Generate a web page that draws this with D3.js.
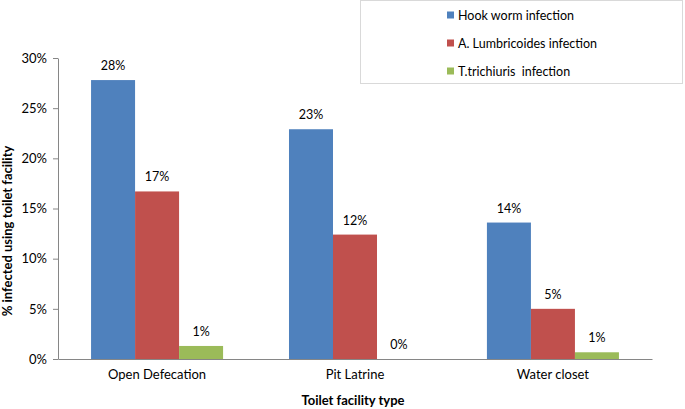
<!DOCTYPE html>
<html><head><meta charset="utf-8">
<script src="https://cdn.jsdelivr.net/npm/d3@7"></script>
<style>body{margin:0;background:#fff}svg{display:block}text{font-family:Lato,"Open Sans",sans-serif;fill:#000}</style>
</head><body><svg id="c" width="685" height="409"></svg>
<script>
const categories = ["Open Defecation", "Pit Latrine", "Water closet"];
const seriesNames = ["Hook worm infection", "A. Lumbricoides infection", "T.trichiuris  infection"];
const hookworm = [27.8, 22.9, 13.6];
const lumbricoides = [16.7, 12.4, 5.0];
const trichiuris = [1.3, 0.0, 0.67];
const dataLabels = [["28%", "23%", "14%"], ["17%", "12%", "5%"], ["1%", "0%", "1%"]];
const yTicks = [0, 5, 10, 15, 20, 25, 30];
const colors = ["#4F81BD", "#C0504D", "#9BBB59"];
const series = [hookworm, lumbricoides, trichiuris];

const svg = d3.select("#c");
const mLeft = 58, mRight = 652, mTop = 58, mBottom = 359;

const x0 = d3.scaleBand().domain(categories).range([mLeft, mRight]).paddingInner(0.333).paddingOuter(0.167);
const x1 = d3.scaleBand().domain(d3.range(3)).range([0, x0.bandwidth()]);
const y = d3.scaleLinear().domain([0, 30]).range([mBottom, mTop]);

// y axis
const yAxis = svg.append("g").attr("transform", `translate(${mLeft},0)`)
  .call(d3.axisLeft(y).tickValues(yTicks).tickFormat(d => d + "%").tickSize(5).tickSizeOuter(0));
yAxis.select(".domain").attr("stroke", "#868686");
yAxis.selectAll(".tick line").attr("stroke", "#868686");
yAxis.selectAll(".tick text").attr("font-size", 13).attr("font-family", "Lato").attr("x", -11).attr("fill", "#000");

// bars
const groups = svg.append("g").selectAll("g").data(categories).join("g")
  .attr("transform", d => `translate(${x0(d)},0)`);
series.forEach((vals, si) => {
  groups.append("rect")
    .attr("x", x1(si))
    .attr("width", x1.bandwidth())
    .attr("y", (d, i) => y(vals[i]))
    .attr("height", (d, i) => y(0) - y(vals[i]))
    .attr("fill", colors[si]);
  groups.append("text")
    .attr("x", x1(si) + x1.bandwidth() / 2)
    .attr("y", (d, i) => y(vals[i]) - 10)
    .attr("text-anchor", "middle")
    .attr("font-size", 12.5)
    .text((d, i) => dataLabels[si][i]);
});

// x axis
const xAxis = svg.append("g").attr("transform", `translate(0,${mBottom})`)
  .call(d3.axisBottom(x0).tickSize(0).tickSizeOuter(0));
xAxis.select(".domain").attr("stroke", "#868686");
xAxis.selectAll(".tick text").attr("font-size", 13).attr("font-family", "Lato").attr("dy", "1.3em").attr("fill", "#000");

// axis titles
svg.append("text").attr("x", (mLeft + mRight) / 2 - 2).attr("y", 405)
  .attr("text-anchor", "middle").attr("font-weight", "bold").attr("font-size", 13).text("Toilet facility type");
svg.append("text").attr("transform", "translate(12,231) rotate(-90)")
  .attr("text-anchor", "middle").attr("font-weight", "bold").attr("font-size", 13).text("% infected using toilet facility");

// legend
const lg = svg.append("g");
lg.append("rect").attr("x", 360.5).attr("y", 0.5).attr("width", 322).attr("height", 83)
  .attr("fill", "#fff").attr("stroke", "#d9d9d9");
const ly = d3.scalePoint().domain(seriesNames).range([15, 71]);
seriesNames.forEach((n, i) => {
  lg.append("rect").attr("x", 447).attr("y", ly(n) - 3.5).attr("width", 7).attr("height", 7).attr("fill", colors[i]);
  lg.append("text").attr("x", 458).attr("y", ly(n) + 4.5).attr("font-size", 12.5)
    .style("white-space", "pre").text(n);
});
</script></body></html>
